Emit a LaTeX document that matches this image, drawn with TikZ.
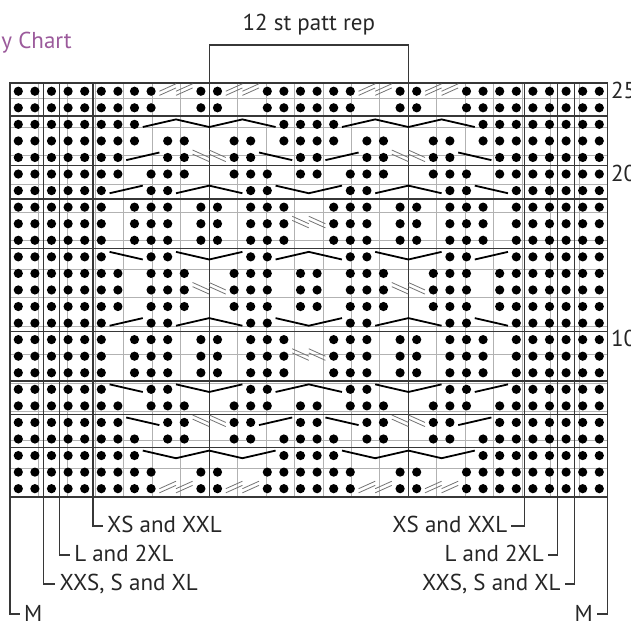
\documentclass[tikz,border=0pt]{standalone}
\usepackage{fontspec}
\setmainfont{PT Sans}

\definecolor{chartpurple}{RGB}{155,90,155}
\definecolor{gridgrey}{RGB}{178,178,178}
\definecolor{ruleline}{RGB}{55,55,55}

% purl columns for each kind of row
\def\rowA{0,1,...,8,11,12,15,16,...,20,23,24,27,28,...,35}
\def\rowB{0,1,...,7,16,17,18,19,28,29,...,35}
\def\rowC{0,1,...,7,9,10,13,14,16,17,18,19,21,22,25,26,28,29,...,35}
\def\rowD{0,1,...,6,9,10,13,14,17,18,21,22,25,26,29,30,...,35}
\def\rowE{0,1,...,6,8,9,10,13,14,15,17,18,20,21,22,25,26,27,29,30,...,35}
\def\rowF{0,1,...,5,8,9,14,15,20,21,26,27,30,31,...,35}
\def\rowG{0,1,...,5,7,8,9,11,12,14,15,16,19,20,21,23,24,26,27,28,30,31,...,35}

% cable and twist symbols: column, row
\newcommand\cabup[2]{\draw[cable] (#1,#2-.66) -- ++(2,.46);}
\newcommand\cabdown[2]{\draw[cable] (#1,#2-.2) -- ++(2,-.46);}
\newcommand\cabpeak[2]{\draw[cable] (#1,#2-.66) -- ++(2,.46) -- ++(2,-.46);}
\newcommand\cabvalley[2]{\draw[cable] (#1,#2-.2) -- ++(2,-.46) -- ++(2,.46);}
\newcommand\twistR[2]{\draw[twist] (#1,#2-.5) -- ++(1,.45) (#1,#2-.75) -- ++(1,.45);}
\newcommand\twistL[2]{\draw[twist] (#1,#2-.05) -- ++(1,-.45) (#1,#2-.3) -- ++(1,-.45);}

\tikzset{
  gridline/.style={gridgrey, line width=0.8pt},
  heavyline/.style={ruleline, line width=1.3pt},
  cable/.style={black, line width=1.8pt},
  twist/.style={black!55, line width=0.8pt},
  lbl/.style={font=\fontsize{23}{25}\selectfont, text=black!85, inner sep=0pt, text height=14pt, text depth=0pt},
}

\begin{document}
\begin{tikzpicture}[x=16.6pt, y=16.56pt]
\useasboundingbox (-0.6024,-7.548) rectangle (37.41,30.01);

% grid
\draw[gridline] (0,0) grid (36,25);
\foreach \x in {2,3,5,12,24,31,33,34} \draw[heavyline] (\x,0) -- (\x,25);
\foreach \y in {3,5,7,10,15,18,20,23} \draw[heavyline] (0,\y) -- (36,\y);
\draw[heavyline] (0,0) rectangle (36,25);

% purl stitches
\foreach \n in {1,2,24,25} {\foreach \c in \rowA {\fill (\c+.5,\n-.5) circle (4.6pt);}}
\foreach \n in {3,23} {\foreach \c in \rowB {\fill (\c+.5,\n-.5) circle (4.6pt);}}
\foreach \n in {4,22} {\foreach \c in \rowC {\fill (\c+.5,\n-.5) circle (4.6pt);}}
\foreach \n in {5,21} {\foreach \c in \rowD {\fill (\c+.5,\n-.5) circle (4.6pt);}}
\foreach \n in {6,12,13,14,20} {\foreach \c in \rowE {\fill (\c+.5,\n-.5) circle (4.6pt);}}
\foreach \n in {7,11,15,19} {\foreach \c in \rowF {\fill (\c+.5,\n-.5) circle (4.6pt);}}
\foreach \n in {8,9,10,16,17,18} {\foreach \c in \rowG {\fill (\c+.5,\n-.5) circle (4.6pt);}}

% twisted stitches
\foreach \n in {1,25} {\foreach \c in {9,10,13,14,21,22,25,26} {\twistR{\c}{\n}}}
\foreach \n in {5,13,21} {\foreach \c in {11,12,23,24} {\twistL{\c}{\n}}}
\foreach \n in {9,17} {\foreach \c in {17,18} {\twistL{\c}{\n}}}

% cables
\foreach \c in {8,12,20,24} {\cabvalley{\c}{3} \cabpeak{\c}{23}}
\foreach \c in {7,19} {\cabdown{\c}{5} \cabup{\c}{21}}
\foreach \c in {15,27} {\cabup{\c}{5} \cabdown{\c}{21}}
\foreach \n in {7,15} {\cabdown{6}{\n} \cabvalley{10}{\n} \cabpeak{16}{\n} \cabvalley{22}{\n} \cabup{28}{\n}}
\foreach \n in {11,19} {\cabup{6}{\n} \cabpeak{10}{\n} \cabvalley{16}{\n} \cabpeak{22}{\n} \cabdown{28}{\n}}

% title and repeat bracket
\node[lbl, text=chartpurple, anchor=base east] (title) at (3.73,27.1) {y Chart};
\node[lbl, anchor=base] (rep) at (18,28.14) {12 st patt rep};
\coordinate (repL) at (12,25);
\coordinate (repR) at (24,25);
\draw[heavyline] (repL) |- (24,27.3) -- (repR);

% row numbers
\foreach \n in {25,20,10} \node[lbl, anchor=west] (row\n) at (36.2,\n-.5) {\n};

% size lines
\node[lbl, anchor=west] (xsL) at (5.84,-1.75) {XS and XXL};
\node[lbl, anchor=west] (lL) at (3.86,-3.5) {L and 2XL};
\node[lbl, anchor=west] (xxsL) at (2.97,-5.25) {XXS, S and XL};
\node[lbl, anchor=west] (mL) at (0.84,-7.07) {M};
\node[lbl, anchor=east] (xsR) at (29.96,-1.75) {XS and XXL};
\node[lbl, anchor=east] (lR) at (32.17,-3.5) {L and 2XL};
\node[lbl, anchor=east] (xxsR) at (33.17,-5.25) {XXS, S and XL};
\node[lbl, anchor=east] (mR) at (35.12,-7.07) {M};
\draw[heavyline] (5,0) |- ([xshift=-4pt]xsL.west);
\draw[heavyline] (3,0) |- ([xshift=-4pt]lL.west);
\draw[heavyline] (2,0) |- ([xshift=-4pt]xxsL.west);
\draw[heavyline] (0,0) |- ([xshift=-4pt]mL.west);
\draw[heavyline] (31,0) |- ([xshift=4pt]xsR.east);
\draw[heavyline] (33,0) |- ([xshift=4pt]lR.east);
\draw[heavyline] (34,0) |- ([xshift=4pt]xxsR.east);
\draw[heavyline] (36,0) |- ([xshift=4pt]mR.east);
\end{tikzpicture}
\end{document}
